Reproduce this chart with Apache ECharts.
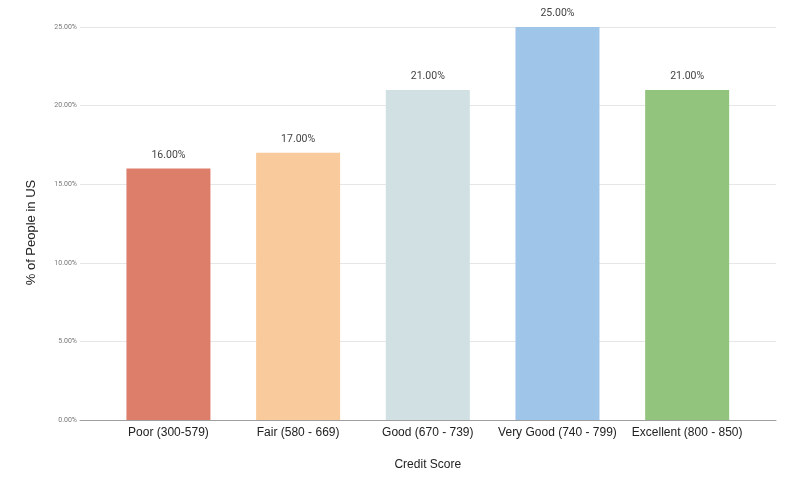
<!DOCTYPE html>
<html><head><meta charset="utf-8">
<script src="https://cdn.jsdelivr.net/npm/echarts@6/dist/echarts.min.js"></script>
<style>html,body{margin:0;padding:0;background:#fff}#c{width:800px;height:495px}</style>
</head><body><div id="c"></div>
<script>
const categories = ['Poor (300-579)', 'Fair (580 - 669)', 'Good (670 - 739)', 'Very Good (740 - 799)', 'Excellent (800 - 850)'];
const values = [16, 17, 21, 25, 21];
const barColors = ['#DD7E6B', '#F9CB9C', '#D0E0E3', '#9FC5E8', '#93C47D'];
const yTicks = [0, 5, 10, 15, 20, 25];

const chart = echarts.init(document.getElementById('c'));
const TOP = 27, BOTTOM = 75;
chart.setOption({
  animation: false,
  backgroundColor: '#fff',
  grid: [
    {left: 80, right: 24, top: TOP, bottom: BOTTOM},
    {left: 103.6, right: 48, top: TOP, bottom: BOTTOM}
  ],
  xAxis: [
    {gridIndex: 0, type: 'value', min: 0, max: 1, show: true,
     axisLine: {show: true, lineStyle: {color: '#9e9e9e', width: 1}},
     axisTick: {show: false}, axisLabel: {show: false}, splitLine: {show: false}},
    {gridIndex: 1, type: 'category', data: categories,
     axisLine: {show: false}, axisTick: {show: false},
     axisLabel: {color: '#222', fontFamily: 'Liberation Sans, Arial', fontSize: 12, margin: 7, interval: 0},
     name: 'Credit Score', nameLocation: 'middle', nameGap: 39,
     nameTextStyle: {color: '#222', fontFamily: 'Liberation Sans, Arial', fontSize: 12}}
  ],
  yAxis: [
    {gridIndex: 0, type: 'value', min: yTicks[0], max: yTicks[yTicks.length-1], interval: 5,
     axisLine: {show: false}, axisTick: {show: false},
     axisLabel: {color: '#777', fontSize: 7, fontFamily: 'Roboto, Arial', margin: 3,
       formatter: v => v.toFixed(2) + '%'},
     splitLine: {lineStyle: {color: '#e6e6e6', width: 1}},
     name: '% of People in US', nameLocation: 'middle', nameGap: 42, nameRotate: 90,
     nameTextStyle: {color: '#222', fontFamily: 'Liberation Sans, Arial', fontSize: 13, padding: [0, 18, 0, 0]}},
    {gridIndex: 1, type: 'value', min: 0, max: 25, show: false, splitLine: {show: false}}
  ],
  series: [{
    type: 'bar', xAxisIndex: 1, yAxisIndex: 1,
    barWidth: 84,
    data: values.map((v, i) => ({value: v, itemStyle: {color: barColors[i]}})),
    label: {show: true, position: 'top', distance: 8, color: '#444', fontSize: 10.5,
      fontFamily: 'Roboto, Arial', formatter: p => p.value.toFixed(2) + '%'}
  }]
});
</script></body></html>
